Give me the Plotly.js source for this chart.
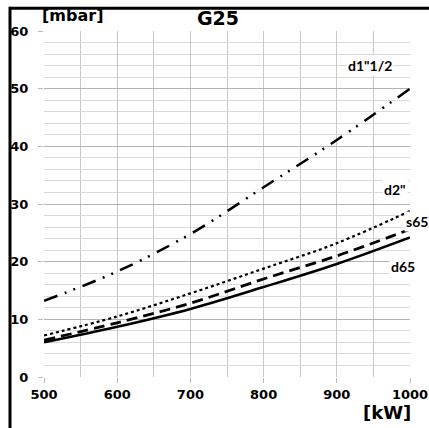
<!DOCTYPE html>
<html><head><meta charset="utf-8">
<script src="https://cdn.plot.ly/plotly-3.0.1.min.js"></script>
<style>html,body{margin:0;padding:0;background:#fff}#c{width:429px;height:428px}</style>
</head><body><div id="c"></div>
<script>
const powerKW = [500, 600, 700, 800, 900, 1000];
const d1_1_2 = [13.2, 18.3, 24.8, 32.9, 41.1, 50.0];
const d2 = [7.2, 10.5, 14.5, 18.8, 23.2, 28.8];
const s65 = [6.4, 9.4, 12.8, 17.0, 21.0, 25.6];
const d65 = [6.0, 8.7, 11.8, 15.6, 19.6, 24.2];
const seriesNames = ['d1"1/2', 'd2"', 's65', 'd65'];
const labelX = [945, 979, 1009, 991];
const labelY = [54.0, 32.6, 27.0, 19.1];
const xTicks = [500, 600, 700, 800, 900, 1000];
const yTicks = [0, 10, 20, 30, 40, 50, 60];
const xRange = [500, 1000];
const yRange = [0, 60];

const lbl = {family: 'Lato, "Open Sans", sans-serif', size: 14, color: '#000'};
const dv = '"DejaVu Sans", sans-serif';
const tickFont = {family: dv, size: 13, color: '#000'};

const traces = [
  {x: powerKW, y: d1_1_2, mode: 'lines', line: {color: '#000', width: 2.5, dash: '14px,8px,2px,7px,2px,8px', shape: 'spline'}},
  {x: powerKW, y: d2, mode: 'lines', line: {color: '#000', width: 2.2, dash: 'dot', shape: 'spline'}},
  {x: powerKW, y: s65, mode: 'lines', line: {color: '#000', width: 2.8, dash: '11px,6px', shape: 'spline'}},
  {x: powerKW, y: d65, mode: 'lines', line: {color: '#000', width: 2.5, shape: 'spline'}}
];

const annotations = seriesNames.map((n, i) => ({
  x: (labelX[i] - xRange[0]) / (xRange[1] - xRange[0]), y: labelY[i], xref: 'paper', yref: 'y',
  xanchor: 'center', yanchor: 'middle', text: '<b>' + n + '</b>', showarrow: false,
  font: lbl, bgcolor: '#fff', borderpad: 1
}));
annotations.push(
  {xref: 'paper', yref: 'paper', x: 0.475, y: 1.037, text: '<b>G25</b>', showarrow: false, xanchor: 'center', yanchor: 'middle',
   font: {family: dv, size: 19, color: '#000'}},
  {xref: 'paper', yref: 'paper', x: -0.011, y: 1.046, text: '<b>[mbar]</b>', showarrow: false, xanchor: 'left', yanchor: 'middle',
   font: {family: dv, size: 16, color: '#000'}},
  {xref: 'paper', yref: 'paper', x: 1.008, y: -0.104, text: '<b>[kW]</b>', showarrow: false, xanchor: 'right', yanchor: 'middle',
   font: {family: dv, size: 18, color: '#000'}}
);

const layout = {
  width: 429, height: 428,
  margin: {l: 44, r: 19, t: 31, b: 51},
  paper_bgcolor: '#fff', plot_bgcolor: '#fff',
  showlegend: false,
  xaxis: {range: xRange, tickmode: 'array', tickvals: xTicks, ticktext: xTicks.map(v => '<b>' + v + '</b>'),
    showgrid: true, gridcolor: '#c8c8c8', gridwidth: 1,
    minor: {dtick: 50, showgrid: true, gridcolor: '#c8c8c8', ticks: ''},
    ticks: 'outside', ticklen: 5, tickcolor: '#bbb', tickfont: tickFont, zeroline: false, showline: false, fixedrange: true},
  yaxis: {range: yRange, tickmode: 'array', tickvals: yTicks, ticktext: yTicks.map(v => '<b>' + v + '</b>'),
    showgrid: true, gridcolor: '#b4b4b4', gridwidth: 1,
    minor: {dtick: 2, showgrid: true, gridcolor: '#d9d9d9'},
    ticks: 'outside', ticklen: 5, tickcolor: '#bbb', tickfont: tickFont, ticklabelstandoff: 7,
    zeroline: false, showline: false, fixedrange: true},
  annotations: annotations,
  shapes: [
    {type: 'line', xref: 'paper', yref: 'paper', x0: -0.0929, x1: 1.06, y0: 1.066, y1: 1.066, line: {color: '#000', width: 3}},
    {type: 'line', xref: 'paper', yref: 'paper', x0: -0.0929, x1: -0.0929, y0: 1.07, y1: -0.16, line: {color: '#000', width: 3}}
  ]
};
Plotly.newPlot('c', traces, layout, {staticPlot: true});
</script></body></html>
